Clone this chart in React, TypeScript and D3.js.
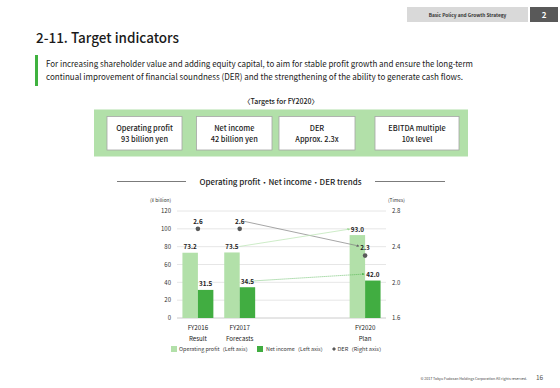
import React from "react";
import * as d3 from "d3";

const categories = ["FY2016", "FY2017", "gap1", "gap2", "FY2020"];
const catLine2: Record<string, string> = { FY2016: "Result", FY2017: "Forecasts", FY2020: "Plan" };
const opProfit = [
  { cat: "FY2016", v: 73.2 },
  { cat: "FY2017", v: 73.5 },
  { cat: "FY2020", v: 93.0 },
];
const netIncome = [
  { cat: "FY2016", v: 31.5 },
  { cat: "FY2017", v: 34.5 },
  { cat: "FY2020", v: 42.0 },
];
const der = [
  { cat: "FY2016", v: 2.6 },
  { cat: "FY2017", v: 2.6 },
  { cat: "FY2020", v: 2.3 },
];
const leftTicks = [0, 20, 40, 60, 80, 100, 120];
const rightTicks = [1.6, 2.0, 2.4, 2.8];
const targets = [
  ["Operating profit", "93 billion yen"],
  ["Net income", "42 billion yen"],
  ["DER", "Approx. 2.3x"],
  ["EBITDA multiple", "10x level"],
];

const FONT = "'Noto Sans CJK JP', 'Noto Sans', sans-serif";
const OP_COLOR = "#b2e0a9";
const NET_COLOR = "#41ad41";
const DER_COLOR = "#595959";

export default function App() {
  const x = d3.scaleBand<string>().domain(categories).range([177, 386]).padding(0);
  const bw = x.bandwidth();
  const sub = d3.scaleBand<string>().domain(["op", "net"]).range([0, bw * 0.74]).padding(0);
  const off = (bw - bw * 0.74) / 2;
  const yL = d3.scaleLinear().domain([0, 120]).range([318, 211]);
  const yR = d3.scaleLinear().domain([1.6, 2.8]).range([318, 211]);
  const cx = (c: string) => (x(c) as number) + bw / 2;
  const opX = (c: string) => (x(c) as number) + off + (sub("op") as number) + sub.bandwidth() / 2;
  const netX = (c: string) => (x(c) as number) + off + (sub("net") as number) + sub.bandwidth() / 2;

  const lblStyle = { fontFamily: FONT, fontSize: 6.3, fontWeight: 700, fill: "#222" } as const;

  const op17 = opProfit[1], op20 = opProfit[2];
  const ni17 = netIncome[1], ni20 = netIncome[2];
  const de17 = der[1], de20 = der[2];
  const arrowOp = { x1: opX(op17.cat) + 7.5, y1: yL(op17.v) - 6, x2: opX(op20.cat) - 7.5, y2: yL(op20.v) - 6 };
  const arrowNi = { x1: netX(ni17.cat) + 1, y1: yL(ni17.v) - 6, x2: netX(ni20.cat) - 8.5, y2: yL(ni20.v) - 6.5 };
  const arrowDe = { x1: cx(de17.cat) + 4.5, y1: yR(de17.v) - 7.5, x2: cx(de20.cat) - 6, y2: yR(de20.v) - 9.5 };

  const boxes = [
    [107, 182],
    [196.5, 272],
    [279, 355],
    [375, 459],
  ];

  return (
    <svg width={560} height={388} style={{ position: "absolute", left: 0, top: 0, background: "#fff" }}>
      <defs>
        <marker id="ahGray" viewBox="0 0 10 10" refX="9" refY="5" markerWidth="4" markerHeight="4" orient="auto">
          <path d="M0,0 L10,5 L0,10 z" fill="#666" />
        </marker>
        <marker id="ahLight" viewBox="0 0 10 10" refX="9" refY="5" markerWidth="4" markerHeight="4" orient="auto">
          <path d="M0,0 L10,5 L0,10 z" fill="#9fd996" />
        </marker>
        <marker id="ahGreen" viewBox="0 0 10 10" refX="9" refY="5" markerWidth="4" markerHeight="4" orient="auto">
          <path d="M0,0 L10,5 L0,10 z" fill="#41ad41" />
        </marker>
      </defs>
      <rect x={0} y={0} width={560} height={388} fill="#fff" />

      {/* header tab */}
      <rect x={407} y={7} width={121} height={15} fill="#d9d9d9" />
      <text x={467.5} y={17.3} textAnchor="middle" style={{ fontFamily: FONT, fontSize: 4.8, fontWeight: 700, fill: "#333" }}>
        Basic Policy and Growth Strategy
      </text>
      <rect x={530} y={7} width={28} height={15} fill="#595959" />
      <text x={544} y={18} textAnchor="middle" style={{ fontFamily: FONT, fontSize: 8, fontWeight: 700, fill: "#fff" }}>
        2
      </text>

      {/* title */}
      <text x={36} y={43} textLength={143} lengthAdjust="spacingAndGlyphs" style={{ fontFamily: FONT, fontSize: 14, fontWeight: 500, fill: "#1a1a1a" }}>
        2-11. Target indicators
      </text>

      {/* intro */}
      <rect x={35} y={55} width={3} height={31} fill="#3fb23f" />
      <text x={46} y={67} textLength={427} lengthAdjust="spacingAndGlyphs" style={{ fontFamily: FONT, fontSize: 8.6, fill: "#222" }}>
        For increasing shareholder value and adding equity capital, to aim for stable profit growth and ensure the long-term
      </text>
      <text x={46} y={80} textLength={417} lengthAdjust="spacingAndGlyphs" style={{ fontFamily: FONT, fontSize: 8.6, fill: "#222" }}>
        continual improvement of financial soundness (DER) and the strengthening of the ability to generate cash flows.
      </text>

      {/* targets */}
      <text x={281} y={104} textAnchor="middle" style={{ fontFamily: FONT, fontSize: 7, fontWeight: 500, fill: "#222" }}>
        〈Targets for FY2020〉
      </text>
      <rect x={94} y={109.5} width={374} height={47} fill="#b2e0a9" />
      {targets.map((t, i) => {
        const [a, b] = boxes[i];
        const c = (a + b) / 2;
        return (
          <g key={i}>
            <rect x={a} y={116.5} width={b - a} height={33.5} fill="#fff" stroke="#a6a6a6" strokeWidth={0.8} />
            <text x={c} y={131} textAnchor="middle" style={{ fontFamily: FONT, fontSize: 7.4, fontWeight: 500, fill: "#222" }}>
              {t[0]}
            </text>
            <text x={c} y={142} textAnchor="middle" style={{ fontFamily: FONT, fontSize: 7.4, fontWeight: 500, fill: "#222" }}>
              {t[1]}
            </text>
          </g>
        );
      })}

      {/* chart title */}
      <line x1={117} x2={186} y1={181.5} y2={181.5} stroke="#595959" strokeWidth={0.8} />
      <line x1={375} x2={445} y1={181.5} y2={181.5} stroke="#595959" strokeWidth={0.8} />
      <text x={280.5} y={184.5} textAnchor="middle" textLength={162} lengthAdjust="spacingAndGlyphs" style={{ fontFamily: FONT, fontSize: 7.4, fontWeight: 500, fill: "#222" }}>
        Operating profit・Net income・DER trends
      </text>

      {/* axis units */}
      <text x={150} y={202} style={{ fontFamily: FONT, fontSize: 4.8, fill: "#333" }}>(¥ billion)</text>
      <text x={388} y={202} style={{ fontFamily: FONT, fontSize: 4.8, fill: "#333" }}>(Times)</text>

      {/* gridlines + left ticks */}
      {leftTicks.map((t) => (
        <g key={t}>
          <line x1={177} x2={386} y1={yL(t)} y2={yL(t)} stroke={t === 0 ? "#bfbfbf" : "#e0e0e0"} strokeWidth={0.8} />
          <text x={171} y={yL(t) + 2.2} textAnchor="end" style={{ fontFamily: FONT, fontSize: 6, fill: "#333" }}>
            {t}
          </text>
        </g>
      ))}
      {rightTicks.map((t) => (
        <text key={t} x={392} y={yR(t) + 2.2} style={{ fontFamily: FONT, fontSize: 6, fill: "#333" }}>
          {t.toFixed(1)}
        </text>
      ))}

      {/* bars */}
      {opProfit.map((d) => (
        <rect key={"op" + d.cat} x={opX(d.cat) - sub.bandwidth() / 2} y={yL(d.v)} width={sub.bandwidth()} height={yL(0) - yL(d.v)} fill={OP_COLOR} />
      ))}
      {netIncome.map((d) => (
        <rect key={"ni" + d.cat} x={netX(d.cat) - sub.bandwidth() / 2} y={yL(d.v)} width={sub.bandwidth()} height={yL(0) - yL(d.v)} fill={NET_COLOR} />
      ))}

      {/* DER points */}
      {der.map((d) => (
        <circle key={"de" + d.cat} cx={cx(d.cat)} cy={yR(d.v)} r={2.3} fill={DER_COLOR} />
      ))}

      {/* annotation arrows */}
      <line {...arrowDe} stroke="#7f7f7f" strokeWidth={0.7} markerEnd="url(#ahGray)" />
      <line {...arrowOp} stroke="#b8e4b0" strokeWidth={0.7} markerEnd="url(#ahLight)" />
      <line {...arrowNi} stroke="#41ad41" strokeWidth={0.6} strokeDasharray="1.2,0.8" markerEnd="url(#ahGreen)" />

      {/* value labels */}
      {opProfit.map((d) => (
        <text key={"lop" + d.cat} x={opX(d.cat)} y={yL(d.v) - 3.5} textAnchor="middle" style={lblStyle}>
          {d.v.toFixed(1)}
        </text>
      ))}
      {netIncome.map((d) => (
        <text key={"lni" + d.cat} x={netX(d.cat)} y={yL(d.v) - 3.5} textAnchor="middle" style={lblStyle}>
          {d.v.toFixed(1)}
        </text>
      ))}
      {der.map((d) => (
        <text key={"lde" + d.cat} x={cx(d.cat)} y={yR(d.v) - 5.2} textAnchor="middle" style={lblStyle}>
          {d.v.toFixed(1)}
        </text>
      ))}

      {/* x labels */}
      {categories.filter((c) => catLine2[c]).map((c) => (
        <g key={"xl" + c}>
          <text x={cx(c)} y={330} textAnchor="middle" style={{ fontFamily: FONT, fontSize: 6.2, fill: "#222" }}>
            {c}
          </text>
          <text x={cx(c)} y={340.5} textAnchor="middle" style={{ fontFamily: FONT, fontSize: 6.2, fill: "#222" }}>
            {catLine2[c]}
          </text>
        </g>
      ))}

      {/* legend */}
      <rect x={171} y={346} width={6} height={6} fill={OP_COLOR} />
      <text x={179} y={351.3} textLength={72} lengthAdjust="spacingAndGlyphs" style={{ fontFamily: FONT, fontSize: 5, fill: "#333" }}>Operating profit（Left axis）</text>
      <rect x={257} y={346} width={6} height={6} fill={NET_COLOR} />
      <text x={266} y={351.3} textLength={60} lengthAdjust="spacingAndGlyphs" style={{ fontFamily: FONT, fontSize: 5, fill: "#333" }}>Net income（Left axis）</text>
      <path d="M334,347 L336,349 L334,351 L332,349 Z" fill={DER_COLOR} />
      <text x={337.5} y={351.3} textLength={47} lengthAdjust="spacingAndGlyphs" style={{ fontFamily: FONT, fontSize: 5, fill: "#333" }}>DER（Right axis）</text>

      {/* footer */}
      <text x={527} y={379.5} textAnchor="end" style={{ fontFamily: FONT, fontSize: 3.6, fill: "#444" }}>
        © 2017 Tokyu Fudosan Holdings Corporation All rights reserved.
      </text>
      <text x={536} y={380} style={{ fontFamily: FONT, fontSize: 6.5, fill: "#555" }}>16</text>
    </svg>
  );
}
